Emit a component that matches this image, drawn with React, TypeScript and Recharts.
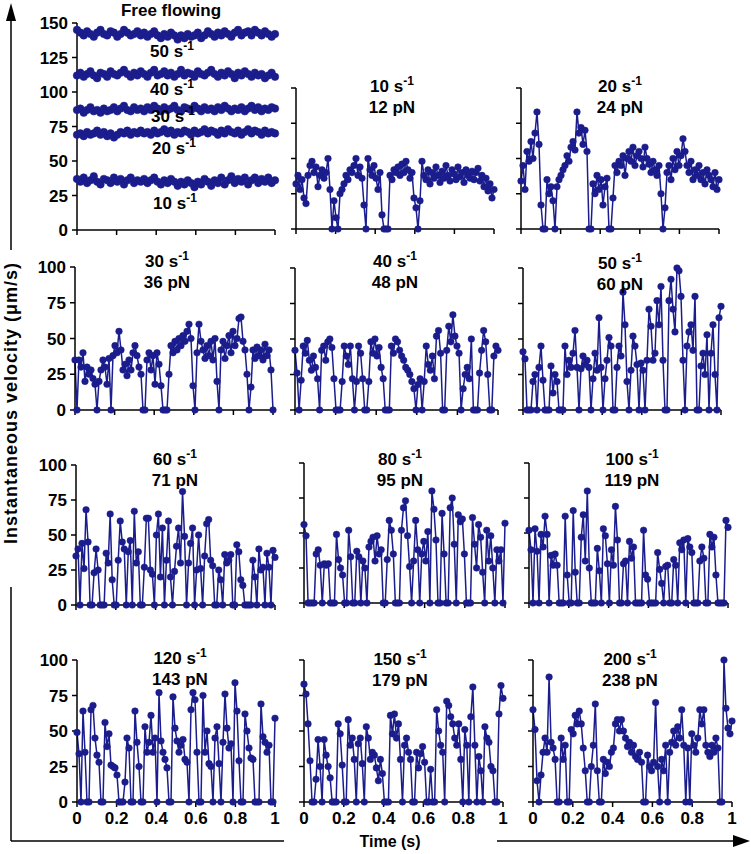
import React from "react";
import { LineChart, Line, XAxis, YAxis } from "recharts";

const NAVY = "#1b1d8c";
const FONT = "'Liberation Sans', Arial, Helvetica, sans-serif";

// free flowing traces (shear rate in s-1)
const freeRates = ["50", "40", "30", "20", "10"];
const free50 = [145, 143, 141, 144, 142, 140, 143, 145, 142, 141, 144, 143, 140, 142, 145, 143, 141, 142, 144, 141, 143, 140, 142, 144, 141, 139, 142, 140, 143, 141, 138, 141, 139, 142, 140, 141, 143, 139, 141, 144, 142, 140, 143, 141, 144, 142, 140, 143, 145, 141, 143, 144, 141, 145, 143, 141, 144, 142, 140, 142];
const free40 = [112, 114, 111, 113, 115, 112, 110, 114, 113, 111, 115, 113, 112, 114, 116, 113, 111, 114, 112, 115, 113, 111, 114, 116, 112, 113, 115, 112, 114, 111, 113, 116, 112, 114, 113, 111, 115, 113, 112, 114, 116, 113, 111, 114, 112, 115, 113, 110, 114, 112, 115, 113, 111, 114, 112, 113, 110, 112, 114, 111];
const free30 = [87, 88, 85, 87, 89, 86, 87, 85, 88, 86, 87, 89, 86, 88, 90, 87, 86, 89, 87, 88, 86, 89, 87, 90, 88, 86, 89, 87, 88, 90, 87, 86, 89, 88, 87, 90, 88, 86, 89, 87, 88, 86, 89, 87, 90, 88, 86, 88, 87, 89, 86, 88, 90, 87, 89, 86, 88, 87, 89, 88];
const free20 = [69, 70, 68, 71, 69, 70, 72, 69, 71, 68, 70, 67, 69, 71, 70, 72, 69, 71, 70, 72, 70, 71, 69, 72, 70, 71, 73, 70, 72, 69, 71, 70, 72, 71, 69, 72, 70, 71, 73, 70, 72, 71, 69, 72, 70, 73, 71, 70, 72, 69, 71, 73, 70, 72, 71, 69, 72, 70, 71, 70];
const free10 = [37, 35, 38, 34, 36, 39, 35, 33, 37, 36, 34, 38, 35, 37, 33, 36, 38, 34, 36, 35, 37, 34, 36, 38, 35, 33, 36, 34, 37, 35, 32, 35, 33, 36, 34, 31, 35, 33, 37, 35, 32, 36, 34, 38, 33, 36, 39, 34, 37, 35, 38, 33, 36, 38, 34, 37, 35, 38, 34, 36];

// tethered traces, one per shear rate / force
const rates = ["10", "20", "30", "40", "50", "60", "80", "100", "120", "150", "200"];
const forces = ["12", "24", "36", "48", "60", "71", "95", "119", "143", "179", "238"];

const v12 = [32, 38, 28, 35, 22, 18, 38, 45, 48, 40, 44, 30, 38, 42, 36, 40, 50, 28, 0, 20, 8, 0, 25, 28, 32, 38, 35, 42, 40, 45, 50, 38, 44, 36, 17, 0, 50, 42, 38, 45, 36, 28, 40, 10, 0, 0, 0, 38, 35, 42, 40, 44, 38, 46, 40, 48, 42, 36, 40, 22, 15, 0, 20, 48, 38, 35, 42, 32, 40, 36, 44, 38, 33, 41, 36, 45, 38, 34, 42, 39, 35, 44, 37, 40, 33, 42, 38, 36, 41, 35, 40, 43, 34, 38, 30, 36, 27, 32, 22, 28];
const v24 = [34, 45, 28, 55, 48, 62, 50, 68, 83, 60, 17, 0, 0, 35, 25, 30, 20, 0, 30, 35, 38, 42, 45, 52, 48, 58, 62, 56, 83, 68, 72, 60, 70, 55, 0, 0, 32, 25, 38, 28, 35, 17, 30, 36, 0, 0, 22, 45, 40, 48, 45, 52, 38, 50, 55, 48, 58, 45, 52, 55, 50, 44, 58, 50, 46, 40, 48, 42, 38, 45, 25, 0, 15, 40, 45, 35, 50, 42, 55, 45, 52, 64, 55, 45, 40, 48, 35, 42, 38, 45, 35, 40, 32, 42, 38, 35, 30, 40, 28, 35];
const v36 = [35, 0, 35, 30, 40, 20, 30, 25, 28, 22, 18, 0, 20, 28, 35, 30, 18, 36, 0, 38, 45, 40, 55, 42, 28, 32, 24, 35, 28, 40, 45, 38, 30, 25, 0, 0, 35, 40, 28, 38, 18, 40, 32, 17, 0, 0, 0, 25, 45, 40, 48, 42, 50, 45, 52, 48, 55, 60, 50, 17, 0, 40, 60, 48, 42, 36, 45, 38, 48, 35, 50, 20, 0, 42, 48, 36, 45, 52, 40, 55, 45, 50, 64, 65, 48, 42, 25, 0, 16, 42, 36, 44, 38, 42, 35, 46, 38, 42, 28, 0];
const v48 = [42, 26, 0, 21, 45, 40, 49, 35, 28, 38, 30, 22, 0, 42, 45, 35, 48, 50, 44, 22, 0, 0, 0, 20, 45, 38, 32, 45, 22, 0, 20, 45, 40, 22, 0, 0, 20, 48, 40, 50, 38, 44, 30, 22, 0, 0, 0, 45, 40, 50, 48, 42, 38, 35, 30, 28, 25, 20, 15, 0, 18, 22, 0, 20, 45, 32, 28, 38, 22, 52, 56, 40, 0, 0, 42, 59, 48, 67, 52, 45, 40, 0, 15, 25, 30, 22, 50, 0, 0, 0, 26, 42, 56, 48, 25, 0, 0, 38, 45, 42];
const v60 = [41, 36, 0, 0, 0, 20, 25, 0, 30, 45, 21, 0, 0, 0, 31, 12, 25, 20, 0, 0, 0, 45, 25, 35, 30, 40, 56, 30, 0, 29, 38, 32, 35, 30, 0, 22, 40, 28, 65, 30, 0, 22, 35, 51, 45, 0, 0, 30, 45, 38, 83, 60, 20, 0, 28, 52, 45, 32, 0, 33, 28, 0, 35, 71, 59, 35, 40, 77, 60, 87, 35, 0, 0, 77, 92, 71, 55, 100, 98, 80, 35, 0, 45, 55, 60, 42, 80, 0, 0, 31, 40, 25, 53, 0, 40, 60, 25, 0, 65, 73];
const v71 = [35, 40, 0, 44, 26, 68, 45, 0, 0, 23, 40, 25, 0, 0, 0, 37, 30, 65, 18, 0, 0, 32, 60, 45, 40, 0, 38, 46, 0, 67, 30, 38, 0, 0, 27, 62, 62, 25, 22, 0, 50, 65, 20, 55, 0, 32, 60, 20, 0, 24, 42, 55, 30, 81, 49, 0, 30, 44, 55, 0, 25, 50, 26, 0, 35, 58, 61, 32, 28, 0, 0, 25, 18, 0, 36, 30, 32, 36, 0, 0, 43, 38, 18, 14, 0, 0, 0, 0, 32, 20, 0, 40, 25, 27, 0, 37, 27, 0, 39, 34];
const v95 = [56, 48, 0, 0, 0, 0, 35, 38, 27, 0, 28, 27, 28, 0, 0, 0, 49, 31, 25, 20, 0, 0, 52, 33, 0, 0, 37, 33, 0, 30, 25, 0, 40, 44, 47, 30, 48, 35, 38, 0, 0, 31, 59, 52, 35, 0, 0, 0, 52, 68, 73, 48, 26, 0, 30, 59, 38, 0, 35, 44, 30, 51, 0, 80, 67, 45, 0, 0, 64, 35, 0, 0, 68, 75, 42, 0, 63, 58, 60, 35, 0, 0, 0, 61, 42, 25, 56, 47, 22, 0, 52, 30, 48, 25, 0, 38, 30, 38, 0, 57];
const v119 = [52, 38, 0, 53, 37, 0, 49, 40, 62, 49, 0, 34, 27, 35, 27, 0, 0, 0, 62, 20, 0, 0, 66, 22, 0, 0, 47, 63, 30, 80, 25, 0, 0, 0, 39, 23, 0, 53, 48, 28, 0, 38, 27, 69, 45, 0, 0, 28, 30, 0, 44, 32, 40, 0, 0, 0, 0, 52, 20, 17, 0, 0, 0, 0, 36, 24, 14, 0, 26, 27, 0, 0, 31, 27, 0, 43, 38, 45, 0, 46, 40, 36, 0, 0, 0, 30, 40, 32, 0, 0, 49, 40, 47, 20, 0, 0, 0, 0, 59, 54];
const v143 = [49, 34, 0, 64, 35, 0, 0, 65, 68, 45, 33, 28, 0, 0, 56, 39, 48, 26, 25, 24, 19, 0, 0, 0, 14, 45, 38, 0, 0, 64, 42, 25, 0, 0, 53, 35, 42, 61, 35, 45, 0, 77, 43, 35, 30, 24, 0, 0, 74, 52, 43, 35, 40, 44, 30, 28, 0, 65, 77, 72, 35, 0, 0, 75, 35, 50, 27, 25, 0, 45, 53, 27, 0, 42, 76, 52, 38, 41, 0, 84, 64, 29, 0, 0, 62, 50, 38, 31, 30, 0, 0, 0, 69, 46, 42, 35, 40, 0, 0, 59];
const v179 = [83, 76, 55, 29, 0, 0, 16, 44, 25, 0, 44, 33, 25, 17, 0, 0, 0, 55, 48, 26, 0, 0, 58, 40, 45, 30, 0, 41, 45, 27, 0, 53, 45, 30, 35, 33, 24, 15, 30, 20, 0, 0, 0, 61, 48, 62, 45, 55, 30, 0, 40, 45, 35, 30, 0, 0, 35, 24, 34, 39, 28, 0, 0, 23, 0, 0, 65, 50, 40, 35, 0, 71, 68, 60, 55, 45, 40, 55, 30, 0, 51, 40, 0, 60, 81, 40, 0, 32, 22, 0, 53, 45, 42, 25, 22, 0, 0, 62, 82, 73];
const v238 = [65, 51, 15, 0, 19, 35, 45, 35, 88, 42, 38, 30, 0, 0, 45, 30, 40, 0, 0, 51, 48, 61, 55, 64, 55, 38, 22, 0, 0, 25, 40, 69, 22, 0, 0, 30, 20, 28, 25, 35, 38, 55, 58, 50, 58, 50, 45, 39, 42, 35, 40, 32, 30, 35, 28, 0, 0, 33, 25, 22, 28, 70, 25, 0, 30, 22, 40, 0, 35, 42, 50, 40, 53, 45, 65, 40, 0, 38, 0, 48, 40, 35, 45, 65, 55, 65, 40, 35, 32, 40, 35, 45, 38, 0, 0, 100, 66, 52, 48, 57];

const timeTicks = [0, 0.2, 0.4, 0.6, 0.8, 1];
const yTicks100 = [0, 25, 50, 75, 100];
const yTicks150 = [0, 25, 50, 75, 100, 125, 150];

const traces = [v12, v24, v36, v48, v60, v71, v95, v119, v143, v179, v238];

// plot rectangles and label spots
const layout = [
  { x: 296, y: 88, w: 198, h: 141, lx: 392, ly: 77 },
  { x: 521, y: 88, w: 198, h: 141, lx: 620, ly: 77 },
  { x: 75, y: 267, w: 198, h: 143, lx: 167, ly: 252 },
  { x: 295, y: 268, w: 203, h: 142, lx: 395, ly: 252 },
  { x: 523, y: 268, w: 198, h: 142, lx: 620, ly: 254 },
  { x: 76, y: 465, w: 199, h: 140, lx: 175, ly: 450 },
  { x: 304, y: 463, w: 201, h: 140, lx: 400, ly: 450 },
  { x: 529, y: 463, w: 199, h: 140, lx: 632, ly: 450 },
  { x: 77, y: 660, w: 198, h: 142, lx: 180, ly: 649 },
  { x: 304, y: 660, w: 199, h: 142, lx: 400, ly: 650 },
  { x: 533, y: 660, w: 199, h: 142, lx: 630, ly: 650 },
];
const freeLabelSpots = [
  { lx: 172, ly: 42 },
  { lx: 172, ly: 80 },
  { lx: 173, ly: 107 },
  { lx: 174, ly: 139 },
  { lx: 175, ly: 194 },
];

const toRows = (vals: number[]) => vals.map((v, i) => ({ t: i / (vals.length - 1), v }));

const freeRows = free10.map((_, i) => ({
  t: i / (free10.length - 1),
  s50: free50[i],
  s40: free40[i],
  s30: free30[i],
  s20: free20[i],
  s10: free10[i],
}));

const tickStyle = { fill: "#000", fontSize: 17, fontWeight: 700, fontFamily: FONT };
const axisStroke = { stroke: "#000", strokeWidth: 1.5 };
const tickStroke = { stroke: "#000", strokeWidth: 1.5 };
const noLabel = () => <g />;

function Panel({
  x, y, w, h, rows, keys, yMax, yTicks, yLabels, xLabels, dotR,
}: {
  x: number; y: number; w: number; h: number;
  rows: any[]; keys: string[]; yMax: number; yTicks: number[];
  yLabels: boolean; xLabels: boolean; dotR: number;
}) {
  const ML = 60, MT = 10, MR = 10, XH = 34;
  return (
    <div style={{ position: "absolute", left: x - ML, top: y - MT }}>
      <LineChart width={w + ML + MR} height={h + MT + XH} data={rows} margin={{ top: MT, right: MR, bottom: 0, left: 0 }}>
        <XAxis
          dataKey="t"
          type="number"
          domain={[0, 1]}
          ticks={timeTicks}
          interval={0}
          height={XH}
          stroke="#000"
          tickSize={5}
          tickMargin={5}
          axisLine={axisStroke}
          tickLine={tickStroke}
          tick={xLabels ? tickStyle : noLabel}
          tickFormatter={(t: number) => String(t)}
        />
        <YAxis
          type="number"
          domain={[0, yMax]}
          ticks={yTicks}
          interval={0}
          width={ML}
          stroke="#000"
          tickSize={5}
          tickMargin={4}
          axisLine={axisStroke}
          tickLine={tickStroke}
          tick={yLabels ? tickStyle : noLabel}
        />
        {keys.map((k) => (
          <Line
            key={k}
            dataKey={k}
            type="linear"
            stroke={NAVY}
            strokeWidth={1.5}
            dot={{ r: dotR, fill: NAVY, stroke: NAVY, strokeWidth: 0.5 }}
            activeDot={false}
            isAnimationActive={false}
          />
        ))}
      </LineChart>
    </div>
  );
}

function RateLabel({ cx, top, rate, force }: { cx: number; top: number; rate: string; force?: string }) {
  return (
    <div
      style={{
        position: "absolute",
        left: cx - 70,
        top,
        width: 140,
        textAlign: "center",
        font: `bold 17px/19px ${FONT}`,
        color: "#000",
        whiteSpace: "nowrap",
      }}
    >
      <div>
        {rate} s<span style={{ fontSize: 12, position: "relative", top: -7 }}>-1</span>
      </div>
      {force && <div>{force} pN</div>}
    </div>
  );
}

export default function App() {
  return (
    <div style={{ position: "absolute", left: 0, top: 0, width: 751, height: 854, background: "#fff", overflow: "hidden" }}>
      {/* outer axes with arrows */}
      <svg width={751} height={854} style={{ position: "absolute", left: 0, top: 0 }}>
        <line x1={11} y1={18} x2={11} y2={250} stroke="#000" strokeWidth={1.5} />
        <polygon points="11,3 6,21 16,21" fill="#000" />
        <line x1={11} y1={587} x2={11} y2={841} stroke="#000" strokeWidth={1.5} />
        <line x1={11} y1={841} x2={284} y2={841} stroke="#000" strokeWidth={1.5} />
        <line x1={497} y1={841} x2={738} y2={841} stroke="#000" strokeWidth={1.5} />
        <polygon points="750,841 733,835 733,847" fill="#000" />
      </svg>

      <Panel
        x={77} y={23} w={198} h={207}
        rows={freeRows}
        keys={["s50", "s40", "s30", "s20", "s10"]}
        yMax={150} yTicks={yTicks150}
        yLabels xLabels={false} dotR={3.8}
      />
      {traces.map((vals, i) => {
        const p = layout[i];
        return (
          <Panel
            key={rates[i]}
            x={p.x} y={p.y} w={p.w} h={p.h}
            rows={toRows(vals)}
            keys={["v"]}
            yMax={100} yTicks={yTicks100}
            yLabels={p.x < 100}
            xLabels={i >= 8}
            dotR={3.3}
          />
        );
      })}

      <div style={{ position: "absolute", left: 96, top: 1, width: 150, textAlign: "center", font: `bold 17px/19px ${FONT}` }}>
        Free flowing
      </div>
      {freeRates.map((r, i) => (
        <RateLabel key={r} cx={freeLabelSpots[i].lx} top={freeLabelSpots[i].ly} rate={r} />
      ))}
      {traces.map((_, i) => (
        <RateLabel key={rates[i]} cx={layout[i].lx} top={layout[i].ly} rate={rates[i]} force={forces[i]} />
      ))}

      <div
        style={{
          position: "absolute",
          left: 11 - 160,
          top: 403 - 11,
          width: 320,
          height: 22,
          textAlign: "center",
          font: `bold 18px/22px ${FONT}`,
          letterSpacing: 1,
          transform: "rotate(-90deg)",
          whiteSpace: "nowrap",
        }}
      >
        Instantaneous velocity (μm/s)
      </div>
      <div style={{ position: "absolute", left: 340, top: 832, width: 100, textAlign: "center", font: `bold 16px/20px ${FONT}`, background: "#fff" }}>
        Time (s)
      </div>
    </div>
  );
}
